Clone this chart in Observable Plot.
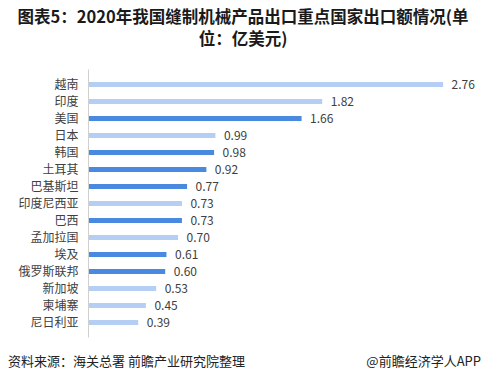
<!DOCTYPE html>
<html><head><meta charset="utf-8">
<script src="https://cdn.jsdelivr.net/npm/d3@7"></script>
<script src="https://cdn.jsdelivr.net/npm/@observablehq/plot@0.6"></script>
<style>
body{margin:0;background:#fff;font-family:"Noto Sans CJK SC","Noto Sans",sans-serif;}
#wrap{position:relative;width:486px;height:381px;overflow:hidden;}
.t{position:absolute;left:0;width:486px;text-align:center;font-size:16.5px;font-weight:bold;line-height:19px;height:19px;color:#1a1a1a;}
#chart{position:absolute;top:52px;left:0;}
#src{position:absolute;top:351px;left:8px;font-size:13px;color:#222;}
#app{position:absolute;top:351px;right:5px;font-size:13px;color:#222;}
</style></head>
<body><div id="wrap">
<div class="t" style="top:7px">图表5：2020年我国缝制机械产品出口重点国家出口额情况(单</div>
<div class="t" style="top:29px">位：亿美元)</div>
<div id="chart"></div>
<div id="src">资料来源：海关总署 前瞻产业研究院整理</div>
<div id="app">@前瞻经济学人APP</div>
</div>
<script>
const countries = ["越南","印度","美国","日本","韩国","土耳其","巴基斯坦","印度尼西亚","巴西","孟加拉国","埃及","俄罗斯联邦","新加坡","柬埔寨","尼日利亚"];
const values = [2.76,1.82,1.66,0.99,0.98,0.92,0.77,0.73,0.73,0.70,0.61,0.60,0.53,0.45,0.39];
const highlight = [false,false,true,false,true,true,true,false,true,false,true,true,false,false,false];

const data = countries.map((c,i)=>({c, v: values[i], h: highlight[i]}));
const chart = Plot.plot({
  width: 486, height: 290,
  marginLeft: 88, marginRight: 12, marginTop: 17.5, marginBottom: 4.5,
  style: {fontFamily: '"Noto Sans CJK SC", sans-serif', fontSize: "12px", color: "#404040", background: "transparent"},
  x: {domain: [0, 3], axis: null},
  y: {domain: countries, padding: 0.68, label: null, tickSize: 0, tickPadding: 10},
  color: {domain: [false, true], range: ["#b4cff3", "#4a89e0"]},
  marks: [
    Plot.barX(data, {y: "c", x: "v", fill: "h"}),
    Plot.ruleX([0], {stroke: "#d0d0d0", strokeWidth: 1}),
    Plot.text(data, {y: "c", x: "v", text: d => d.v.toFixed(2), dx: 8, textAnchor: "start", fill: "#404040", fontSize: 12}),
    Plot.axisY({tickSize: 0, tickPadding: 10, fontSize: 12, fill: "#404040", label: null})
  ]
});
document.getElementById("chart").appendChild(chart);
</script>
</body></html>
